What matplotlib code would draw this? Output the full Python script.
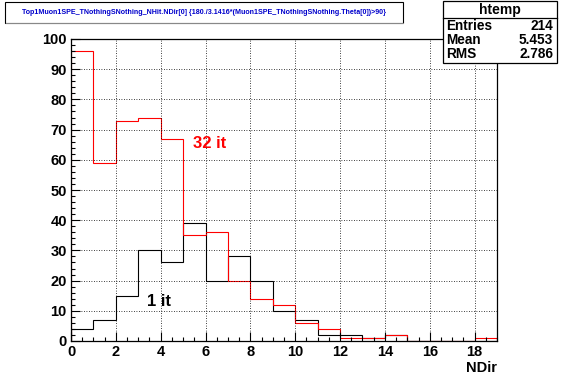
import numpy as np
import matplotlib.pyplot as plt
from matplotlib.patches import Rectangle
from matplotlib.ticker import MultipleLocator

plt.rcParams['font.family'] = ['Liberation Sans', 'DejaVu Sans']

edges = np.arange(0, 20, 1)
# 1 iteration (black) and 32 iterations (red), counts per NDir bin
counts_1it = [4, 7, 15, 30, 26, 39, 20, 28, 20, 10, 7, 2, 2, 1, 2, 0, 0, 0, 0]
counts_32it = [96, 59, 73, 74, 67, 35, 36, 20, 14, 12, 6, 4, 1, 1, 2, 0, 0, 0, 1]

title = 'Top1Muon1SPE_TNothingSNothing_NHit.NDir[0] {180./3.1416*(Muon1SPE_TNothingSNothing.Theta[0])>90}'
stats_name = 'htemp'
stats_labels = ['Entries', 'Mean', 'RMS']
stats_values = ['214', '5.453', '2.786']

W, H = 567, 384
fig = plt.figure(figsize=(W / 100, H / 100), dpi=100)
ax = fig.add_axes([71 / W, 43 / H, 426 / W, 302 / H])

ax.stairs(counts_1it, edges, color='black', lw=0.8)
ax.stairs(counts_32it, edges, color='red', lw=0.8)

ax.set_xlim(0, 19)
ax.set_ylim(0, 100)
ax.xaxis.set_major_locator(MultipleLocator(2))
ax.xaxis.set_minor_locator(MultipleLocator(0.5))
ax.yaxis.set_major_locator(MultipleLocator(10))
ax.yaxis.set_minor_locator(MultipleLocator(2))
ax.tick_params(which='both', direction='in', width=0.8, top=False, right=False)
ax.tick_params(which='major', length=6.5, labelsize=10.5, pad=3)
ax.tick_params(which='minor', length=3.2)
for lab in ax.get_xticklabels() + ax.get_yticklabels():
    lab.set_fontweight('bold')
ax.grid(True, which='major', color='black', ls=(0, (1, 2)), lw=0.6)
for sp in ax.spines.values():
    sp.set_linewidth(0.9)

ax.set_xlabel('NDir', fontsize=10.5, fontweight='bold', loc='right', labelpad=1)

ax.text(5.45, 65.5, '32 it', color='red', fontsize=12, fontweight='bold', va='center')
ax.text(3.4, 13.2, '1 it', color='black', fontsize=12, fontweight='bold', va='center')

# title pave
fig.patches.append(Rectangle((5 / W, 1 - 23 / H), 398 / W, 21 / H, transform=fig.transFigure,
                             fill=False, ec='black', lw=0.8))
fig.patches.append(Rectangle((6 / W, 1 - 24 / H), 398 / W, 1 / H, transform=fig.transFigure,
                             fc='#888888', ec='none'))
fig.text(204 / W, 1 - 12.5 / H, title, color='#0000cc', fontsize=5.1, fontweight='bold',
         ha='center', va='center')

# stats box
fig.patches.append(Rectangle((443 / W, 1 - 63 / H), 114 / W, 62 / H, transform=fig.transFigure,
                             fc='white', ec='black', lw=0.9))
fig.lines.append(plt.Line2D([443 / W, 557 / W], [1 - 18 / H, 1 - 18 / H],
                            transform=fig.transFigure, color='black', lw=0.9))
fig.text(500 / W, 1 - 10 / H, stats_name, fontsize=10, fontweight='bold', ha='center', va='center')
for i, (lab, val) in enumerate(zip(stats_labels, stats_values)):
    y = 1 - (25.5 + i * 14.5) / H
    fig.text(446 / W, y, lab, fontsize=9.8, fontweight='bold', ha='left', va='center')
    fig.text(553 / W, y, val, fontsize=9.8, fontweight='bold', ha='right', va='center')

fig.savefig('out.png', dpi=100)
